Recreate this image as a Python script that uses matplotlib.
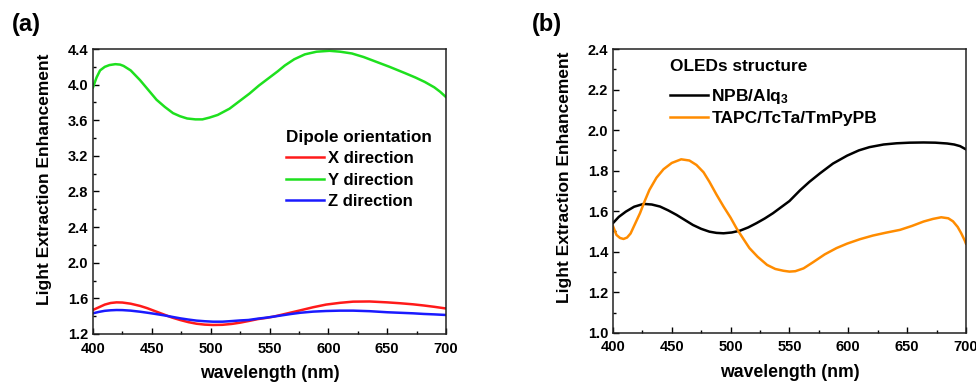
import numpy as np
import matplotlib
matplotlib.use("Agg")
import matplotlib.pyplot as plt
from matplotlib.ticker import MultipleLocator

plt.rcParams['font.family'] = ['Liberation Sans', 'DejaVu Sans']
plt.rcParams['font.weight'] = 'bold'
plt.rcParams['mathtext.fontset'] = 'custom'
plt.rcParams['mathtext.bf'] = 'Liberation Sans:bold'
plt.rcParams['mathtext.rm'] = 'Liberation Sans:bold'
plt.rcParams['mathtext.default'] = 'bf'

# panel (a) - dipole orientation
wl_y = [400, 403, 406, 410, 414, 419, 423, 426, 432, 440, 447, 454, 461, 468, 474, 480, 487,
        493, 499, 506, 516, 524, 533, 541, 550, 557, 563, 571, 580, 590, 601, 610, 620, 630,
        640, 652, 665, 674, 682, 690, 695, 700]
y_dir = [3.97, 4.08, 4.16, 4.20, 4.22, 4.23, 4.225, 4.21, 4.16, 4.05, 3.94, 3.83, 3.75, 3.68,
         3.645, 3.62, 3.61, 3.61, 3.63, 3.66, 3.73, 3.81, 3.90, 3.99, 4.08, 4.15, 4.215, 4.285,
         4.34, 4.37, 4.38, 4.37, 4.35, 4.31, 4.26, 4.20, 4.13, 4.08, 4.03, 3.97, 3.92, 3.86]

wl_xz = [400, 405, 410, 415, 420, 425, 432, 440, 446, 453, 460, 467, 474, 481, 488, 495, 502,
         510, 518, 525, 532, 540, 547, 553, 560, 568, 576, 587, 598, 610, 621, 635, 650, 661,
         672, 681, 690, 699]
x_dir = [1.47, 1.50, 1.53, 1.548, 1.555, 1.553, 1.54, 1.515, 1.49, 1.455, 1.42, 1.385, 1.357,
         1.333, 1.315, 1.305, 1.301, 1.303, 1.313, 1.327, 1.345, 1.367, 1.38, 1.394, 1.415,
         1.44, 1.465, 1.50, 1.53, 1.55, 1.563, 1.565, 1.555, 1.545, 1.533, 1.52, 1.505, 1.488]
z_dir = [1.432, 1.448, 1.46, 1.466, 1.469, 1.468, 1.462, 1.45, 1.439, 1.425, 1.41, 1.393,
         1.376, 1.362, 1.35, 1.343, 1.338, 1.338, 1.345, 1.352, 1.357, 1.372, 1.383, 1.394,
         1.408, 1.424, 1.438, 1.451, 1.458, 1.462, 1.462, 1.456, 1.444, 1.438, 1.432, 1.425,
         1.42, 1.414]

# panel (b) - OLED structures
wl_npb = [400, 405, 411, 418, 426, 433, 440, 447, 454, 461, 468, 475, 482, 488, 494, 501, 508,
          515, 522, 529, 536, 543, 550, 559, 567, 576, 587, 599, 609, 618, 630, 641, 652, 664,
          674, 684, 690, 695, 700]
npb_alq3 = [1.541, 1.572, 1.598, 1.622, 1.636, 1.633, 1.623, 1.604, 1.582, 1.557, 1.532, 1.513,
            1.499, 1.493, 1.491, 1.495, 1.504, 1.52, 1.541, 1.564, 1.59, 1.62, 1.65, 1.703,
            1.745, 1.787, 1.835, 1.874, 1.9, 1.916, 1.929, 1.935, 1.938, 1.939, 1.938, 1.934,
            1.929, 1.921, 1.905]

wl_tapc = [400, 403, 406, 409, 412, 415, 419, 423, 427, 431, 437, 443, 450, 458, 465, 471, 477,
           482, 488, 494, 500, 505, 511, 516, 523, 531, 538, 545, 550, 555, 562, 570, 580, 590,
           599, 610, 621, 632, 644, 654, 664, 672, 679, 685, 689, 693, 696, 699, 700]
tapc = [1.527, 1.483, 1.468, 1.463, 1.47, 1.49, 1.54, 1.59, 1.65, 1.705, 1.765, 1.807, 1.838,
        1.856, 1.85, 1.828, 1.792, 1.745, 1.682, 1.623, 1.568, 1.516, 1.462, 1.418, 1.375,
        1.335, 1.315, 1.306, 1.302, 1.304, 1.318, 1.348, 1.387, 1.418, 1.44, 1.462, 1.48, 1.494,
        1.508, 1.527, 1.549, 1.562, 1.57, 1.565, 1.55, 1.522, 1.491, 1.455, 1.44]

fig = plt.figure(figsize=(9.76, 3.83), dpi=100)
ax1 = fig.add_axes([0.0953, 0.128, 0.3617, 0.744])
ax2 = fig.add_axes([0.628, 0.131, 0.3617, 0.741])

ax1.plot(wl_xz, x_dir, color='#ff1a1a', lw=1.8, label='X direction')
ax1.plot(wl_y, y_dir, color='#1ee01e', lw=1.8, label='Y direction')
ax1.plot(wl_xz, z_dir, color='#1a1aff', lw=1.8, label='Z direction')
ax1.set_ylim(1.2, 4.4)
ax1.yaxis.set_major_locator(MultipleLocator(0.4))
ax1.yaxis.set_minor_locator(MultipleLocator(0.2))

ax2.plot(wl_npb, npb_alq3, color='black', lw=1.8, label='NPB/Alq$_3$')
ax2.plot(wl_tapc, tapc, color='#ff8c00', lw=1.8, label='TAPC/TcTa/TmPyPB')
ax2.set_ylim(1.0, 2.4)
ax2.yaxis.set_major_locator(MultipleLocator(0.2))
ax2.yaxis.set_minor_locator(MultipleLocator(0.1))

for ax in (ax1, ax2):
    ax.set_xlim(400, 700)
    ax.xaxis.set_major_locator(MultipleLocator(50))
    ax.xaxis.set_minor_locator(MultipleLocator(25))
    ax.tick_params(which='both', direction='in', top=False, right=False, labelsize=10.5)
    ax.tick_params(which='major', length=4, width=1)
    ax.tick_params(which='minor', length=2.5, width=1)
    ax.tick_params(axis='x', pad=5.5)
    for lab in ax.get_xticklabels() + ax.get_yticklabels():
        lab.set_fontweight('bold')
    for sp in ax.spines.values():
        sp.set_linewidth(1.1)
        sp.set_color('#222222')
    ax.set_xlabel('wavelength (nm)', fontsize=12.7, fontweight='bold', labelpad=7)
    ax.set_ylabel('Light Extraction Enhancement', fontsize=12.5, fontweight='bold')

ax1.yaxis.set_label_coords(-0.116, 0.544)
ax2.yaxis.set_label_coords(-0.116, 0.548)

# legend titles drawn as text, entries as legends
ax1.text(0.547, 0.691, 'Dipole orientation', transform=ax1.transAxes, fontsize=12.3,
         fontweight='bold', va='center', ha='left')
ax1.legend(loc='upper left', bbox_to_anchor=(0.547, 0.641), frameon=False, fontsize=12,
           handlelength=2.3, handletextpad=0.2, labelspacing=0.38, borderpad=0,
           borderaxespad=0)

ax2.text(0.161, 0.937, 'OLEDs structure', transform=ax2.transAxes, fontsize=12.4,
         fontweight='bold', va='center', ha='left')
ax2.legend(loc='upper left', bbox_to_anchor=(0.161, 0.866), frameon=False, fontsize=12.5,
           handlelength=2.2, handletextpad=0.2, labelspacing=0.3, borderpad=0,
           borderaxespad=0)

fig.text(0.012, 0.965, '(a)', fontsize=17, fontweight='bold', va='top')
fig.text(0.545, 0.965, '(b)', fontsize=17, fontweight='bold', va='top')

fig.savefig('out.png', dpi=100)
